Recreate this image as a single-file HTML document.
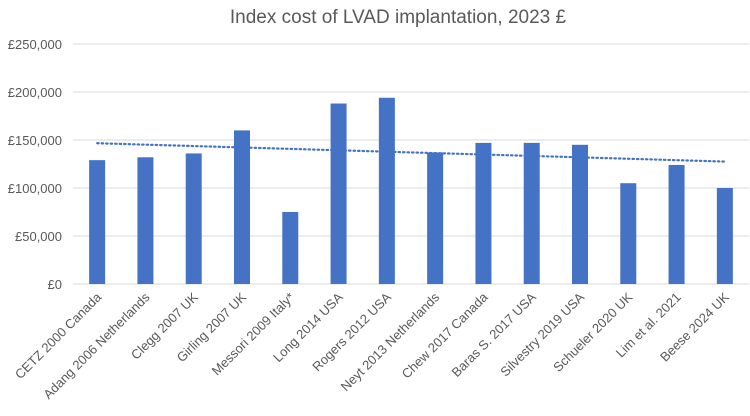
<!DOCTYPE html>
<html><head><meta charset="utf-8"><style>
body{margin:0;background:#fff;}
svg{display:block;font-family:"Liberation Sans",Arial,sans-serif;}
</style></head><body>
<svg id="chart" width="750" height="416">
<text x="398" y="23" text-anchor="middle" font-size="19" fill="#595959">Index cost of LVAD implantation, 2023 £</text>
<g id="grid"></g><g id="bars"></g><g id="labels"></g><g id="trend"></g>
</svg>
<script>
const categories=["CETZ 2000 Canada","Adang 2006 Netherlands","Clegg 2007 UK","Girling 2007 UK","Messori 2009 Italy*","Long 2014 USA","Rogers 2012 USA","Neyt 2013 Netherlands","Chew 2017 Canada","Baras S. 2017 USA","Silvestry 2019 USA","Schueler 2020 UK","Lim et al. 2021","Beese 2024 UK"];
const costs=[129000,132000,136000,160000,75000,188000,194000,137000,147000,147000,145000,105000,124000,100000];
const yTicks=[0,50000,100000,150000,200000,250000];
const yTickLabels=["£0","£50,000","£100,000","£150,000","£200,000","£250,000"];
const NS="http://www.w3.org/2000/svg";
const x0=73,x1=749,y0=284,y1=44,ymax=250000;
const step=(x1-x0)/categories.length;
const xc=i=>x0+step*(i+0.5);
const ys=v=>y0-(v/ymax)*(y0-y1);
function mk(t,a,p){const e=document.createElementNS(NS,t);for(const k in a)e.setAttribute(k,a[k]);p.appendChild(e);return e;}
const grid=document.getElementById('grid');
yTicks.forEach((t,i)=>{
  const l=mk('line',{x1:x0,x2:x1,y1:ys(t),y2:ys(t),stroke:'#d9d9d9','stroke-width':1},grid);
  
  
  const tx=mk('text',{x:62,y:ys(t)+5,'text-anchor':'end','font-size':13,fill:'#595959'},grid);
  tx.textContent=yTickLabels[i];
  
  
});
const bars=document.getElementById('bars'),labels=document.getElementById('labels');
costs.forEach((v,i)=>{
  const r=mk('rect',{x:xc(i)-8,y:ys(v),width:16,height:y0-ys(v),fill:'#4472c4'},bars);
  
  
  const t=mk('text',{x:0,y:0,'text-anchor':'end','font-size':13,fill:'#595959',transform:`translate(${xc(i)+5},${y0+14}) rotate(-45)`},labels);
  t.textContent=categories[i];
  
  
});
// linear trendline
const n=costs.length;let sx=0,sy=0,sxy=0,sxx=0;
costs.forEach((v,i)=>{sx+=i;sy+=v;sxy+=i*v;sxx+=i*i;});
const b=(n*sxy-sx*sy)/(n*sxx-sx*sx),a=(sy-b*sx)/n;
const tl=mk('line',{x1:xc(0),y1:ys(a),x2:xc(n-1),y2:ys(a+b*(n-1)),stroke:'#4472c4','stroke-width':2.2,'stroke-dasharray':'1.5 3','stroke-linecap':'round'},document.getElementById('trend'));


</script>
</body></html>
